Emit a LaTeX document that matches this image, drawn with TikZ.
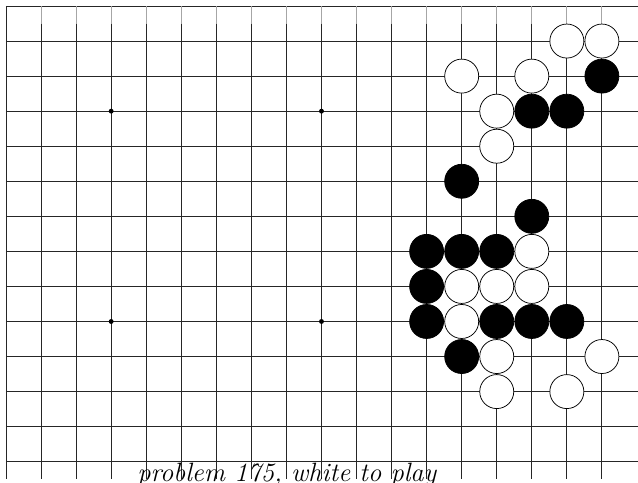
\documentclass[tikz,border=0pt]{standalone}
\usepackage{tikz}

\begin{document}
\begin{tikzpicture}[
  x=1cm,y=-1cm,
  grid/.style={line width=0.7pt,black!85},
  stub/.style={line width=0.7pt,black!35},
  stone/.style={circle,draw=black,line width=0.6pt,minimum size=0.97cm,inner sep=0pt},
  bstone/.style={stone,fill=black},
  wstone/.style={stone,fill=white},
  hoshi/.style={circle,fill=black,minimum size=0.14cm,inner sep=0pt},
  caption/.style={font=\fontsize{21.5}{25}\selectfont\itshape,anchor=base}
]
  \useasboundingbox (-0.171,-0.171) rectangle (18.03,13.59);

  % board lines
  \foreach \r in {0,...,13}
    \draw[grid] (0,\r) -- (18.03,\r);
  \draw[grid] (0,0) -- (0,13.5);
  \foreach \c in {1,...,17} {
    \draw[stub] (\c,0) -- (\c,0.5);
    \draw[grid] (\c,0.5) -- (\c,13.5);
  }

  % star points
  \node[hoshi] (h1) at (3,3) {};
  \node[hoshi] (h2) at (9,3) {};
  \node[hoshi] (h3) at (3,9) {};
  \node[hoshi] (h4) at (9,9) {};

  % black stones
  \foreach \c/\r in {17/2,15/3,16/3,13/5,15/6,12/7,13/7,14/7,12/8,12/9,14/9,15/9,16/9,13/10}
    \node[bstone] (b-\c-\r) at (\c,\r) {};

  % white stones
  \foreach \c/\r in {16/1,17/1,13/2,15/2,14/3,14/4,15/7,13/8,14/8,15/8,13/9,14/10,17/10,14/11,16/11}
    \node[wstone] (w-\c-\r) at (\c,\r) {};

  \node[caption] (title) at (8.01,13.57) {problem 175, white to play};
\end{tikzpicture}
\end{document}
